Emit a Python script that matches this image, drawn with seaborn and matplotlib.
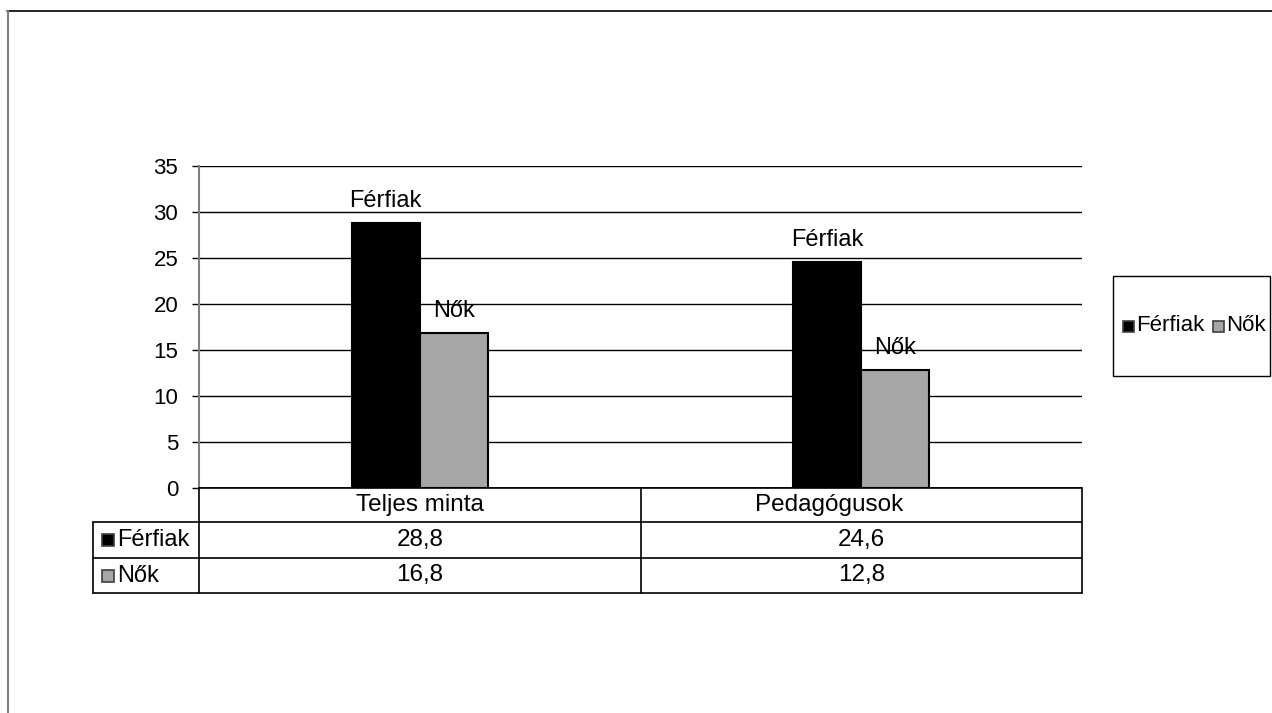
import matplotlib
matplotlib.use("Agg")
import matplotlib.pyplot as plt
import seaborn as sns
import pandas as pd
from matplotlib.patches import Rectangle
from matplotlib.lines import Line2D

categories = ["Teljes minta", "Pedagógusok"]
series_names = ["Férfiak", "Nők"]
ferfiak = [28.8, 24.6]
nok = [16.8, 12.8]
colors = ["#000000", "#a6a6a6"]
yticks = [0, 5, 10, 15, 20, 25, 30, 35]

sns.set_theme(style="white")
plt.rcParams["font.family"] = ["Liberation Sans", "DejaVu Sans"]
plt.rcParams["text.color"] = "black"
plt.rcParams["ytick.color"] = "black"
plt.rcParams["ytick.labelcolor"] = "black"
FS_TICK = 16
FS_LAB = 17
FS_CELL = 17.5
FS_LEG = 16

W, H = 1272, 713
fig = plt.figure(figsize=(W / 100, H / 100), dpi=100)
fig.patch.set_facecolor("white")

def fx(px):
    return px / W

def fy(py):
    return 1 - py / H

# plot area
x0, x1, ytop, ybot = 199, 1082, 166, 488
ax = fig.add_axes([fx(x0), fy(ybot), fx(x1) - fx(x0), fy(ytop) - fy(ybot)])

df = pd.DataFrame({
    "cat": categories * 2,
    "series": [series_names[0]] * len(categories) + [series_names[1]] * len(categories),
    "value": ferfiak + nok,
})
sns.barplot(data=df, x="cat", y="value", hue="series", order=categories,
            hue_order=series_names, palette=colors, width=0.308, gap=0,
            edgecolor="black", linewidth=1.5, saturation=1, legend=False, ax=ax, zorder=3)

ax.set_xlim(-0.5, len(categories) - 0.5)
ax.set_ylim(0, 35)
ax.set_yticks(yticks)
ax.set_yticklabels([str(t) for t in yticks], fontsize=FS_TICK, color="black")
ax.set_xticks([])
ax.set_xlabel("")
ax.set_ylabel("")
for t in yticks:
    if t > 0:
        ax.axhline(t, color="black", lw=1.0, zorder=1)
ax.axhline(0, color="black", lw=1.2, zorder=4)
for s in ["top", "right", "bottom"]:
    ax.spines[s].set_visible(False)
ax.spines["left"].set_color("#808080")
ax.spines["left"].set_linewidth(1.5)
ax.tick_params(axis="y", left=True, length=5, width=1, color="black", pad=10, labelsize=FS_TICK)

for cont, name in zip(ax.containers, series_names):
    ax.bar_label(cont, labels=[name] * len(cont), padding=8, fontsize=FS_LAB, color="black")

# data table
rows_y = [488, 522, 558, 593]
colx = [x0, 640.5, x1]
lw = 1.2
fig.add_artist(Line2D([fx(x0), fx(x1)], [fy(rows_y[0])] * 2, color="black", lw=lw))
for ry in rows_y[1:]:
    fig.add_artist(Line2D([fx(93), fx(x1)], [fy(ry)] * 2, color="black", lw=lw))
fig.add_artist(Line2D([fx(93)] * 2, [fy(rows_y[1]), fy(rows_y[3])], color="black", lw=lw))
for cx in colx:
    fig.add_artist(Line2D([fx(cx)] * 2, [fy(rows_y[0]), fy(rows_y[3])], color="black", lw=lw))

cat_offsets = [0, -32]
for i, c in enumerate(categories):
    cx = (colx[i] + colx[i + 1]) / 2 + cat_offsets[i]
    fig.text(fx(cx), fy((rows_y[0] + rows_y[1]) / 2), c, ha="center", va="center", fontsize=FS_CELL)

series_vals = [ferfiak, nok]
for r, (name, vals, col) in enumerate(zip(series_names, series_vals, colors)):
    ymid = (rows_y[r + 1] + rows_y[r + 2]) / 2
    fig.add_artist(Rectangle((fx(102), fy(ymid + 6)), fx(12), 12 / H, facecolor=col,
                             edgecolor="#404040", lw=1.2, transform=fig.transFigure))
    fig.text(fx(117), fy(ymid), name, ha="left", va="center", fontsize=FS_LAB)
    for i, v in enumerate(vals):
        cx = (colx[i] + colx[i + 1]) / 2
        fig.text(fx(cx), fy(ymid), f"{v:.1f}".replace(".", ","), ha="center", va="center", fontsize=FS_CELL)

# legend box
fig.add_artist(Rectangle((fx(1113), fy(376)), fx(1270 - 1113), (376 - 276) / H, facecolor="none",
                         edgecolor="black", lw=1.0, transform=fig.transFigure))
lx = 1123
ly = 326
for name, col in zip(series_names, colors):
    fig.add_artist(Rectangle((fx(lx), fy(ly + 5.5)), fx(11), 11 / H, facecolor=col,
                             edgecolor="#404040", lw=1.2, transform=fig.transFigure))
    t = fig.text(fx(lx + 13), fy(ly), name, ha="left", va="center", fontsize=FS_LEG)
    fig.canvas.draw()
    bb = t.get_window_extent()
    lx = bb.x1 + 9

# outer border
fig.add_artist(Line2D([fx(7), 1], [fy(11), fy(11)], color="black", lw=1.2))
fig.add_artist(Line2D([fx(8), fx(8)], [fy(11), 0], color="#808080", lw=1.5))

fig.savefig("out.png", dpi=100, facecolor="white")
